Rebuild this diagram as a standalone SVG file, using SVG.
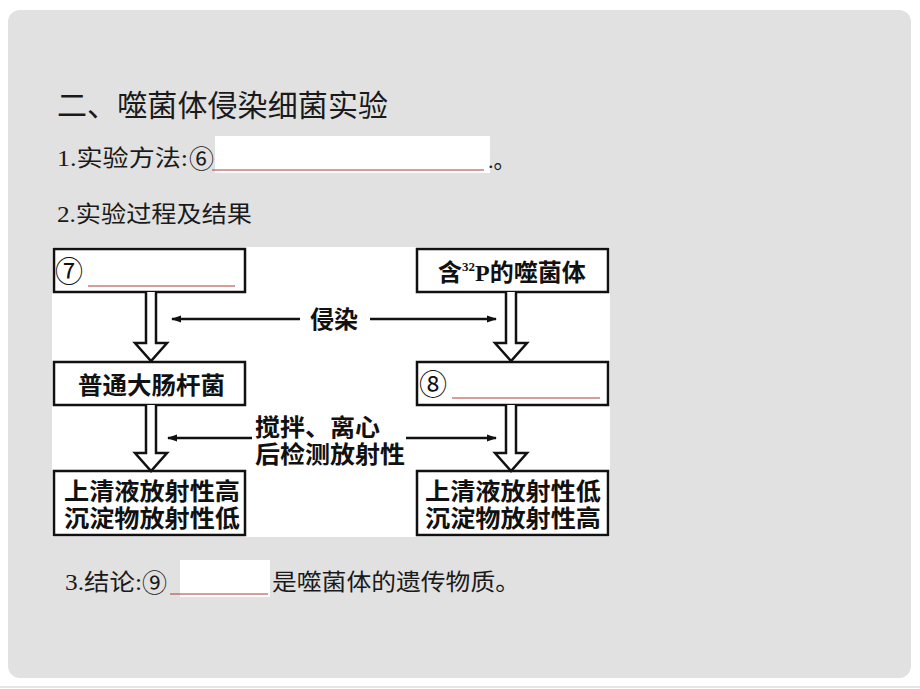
<svg xmlns="http://www.w3.org/2000/svg" width="920" height="689" viewBox="0 0 920 689">
<defs>
<style>
.t{font-family:"Liberation Serif","Noto Sans CJK SC",serif;fill:#1a1a1a}
.h{font-family:"Noto Sans CJK SC","Noto Sans",sans-serif;fill:#1a1a1a}
.b{font-family:"Liberation Serif","Noto Sans CJK SC",serif;font-weight:bold;fill:#111}
.c{font-family:"Noto Sans CJK SC","DejaVu Sans",sans-serif;font-weight:normal}
.box{fill:#fff;stroke:#111;stroke-width:2.5}
.red{stroke:#b03a3a;stroke-width:1.2}
.hollow{fill:#fff;stroke:#111;stroke-width:2.5;stroke-linejoin:miter}
.line{stroke:#111;stroke-width:2.5;fill:none}
</style>
<marker id="ah" viewBox="0 0 10 10" refX="9" refY="5" markerWidth="5" markerHeight="4" orient="auto" markerUnits="strokeWidth">
<path d="M0,1.5 L10,5 L0,8.5 Z" fill="#111"/>
</marker>
</defs>
<rect width="920" height="689" fill="#fff"/>
<rect x="8" y="10" width="903" height="668" rx="12" fill="#e1e1e1"/>
<line x1="0" y1="687" x2="920" y2="687" stroke="#e6e6e6" stroke-width="2"/>

<text class="h" x="57" y="116" font-size="30" textLength="331">二、噬菌体侵染细菌实验</text>
<text class="t" x="57" y="166" font-size="23" textLength="131" lengthAdjust="spacingAndGlyphs">1.实验方法:</text>
<text class="t c" x="189" y="168" font-size="25">⑥</text>
<rect x="215" y="136" width="275" height="37" fill="#fff"/>
<line class="red" x1="212" y1="170" x2="484" y2="170"/>
<text class="t" x="488" y="168" font-size="22">.。</text>
<text class="t" x="57" y="222" font-size="23" textLength="195" lengthAdjust="spacingAndGlyphs">2.实验过程及结果</text>

<rect x="52" y="247" width="558" height="290" fill="#fff"/>

<g id="n7">
<rect class="box" x="54" y="249" width="191" height="43"/>
<text class="b c" x="55" y="282" font-size="28" font-weight="bold">⑦</text>
<line class="red" x1="88" y1="286" x2="235" y2="286"/>
</g>
<g id="n32p">
<rect class="box" x="417" y="249" width="191" height="43"/>
<text class="b" x="438" y="281" font-size="24">含<tspan font-size="13" dy="-10">32</tspan><tspan dy="10">P的噬菌体</tspan></text>
</g>
<g id="necoli">
<rect class="box" x="54" y="362" width="191" height="43"/>
<text class="b" x="78" y="394" font-size="24" textLength="147" lengthAdjust="spacingAndGlyphs">普通大肠杆菌</text>
</g>
<g id="n8">
<rect class="box" x="417" y="362" width="191" height="43"/>
<text class="b c" x="419" y="395" font-size="28" font-weight="bold">⑧</text>
<line class="red" x1="452" y1="398" x2="600" y2="398"/>
</g>
<g id="nresL">
<rect class="box" x="54" y="471" width="191" height="64"/>
<text class="b" x="64" y="500" font-size="24" textLength="176" lengthAdjust="spacingAndGlyphs">上清液放射性高</text>
<text class="b" x="64" y="527" font-size="24" textLength="176" lengthAdjust="spacingAndGlyphs">沉淀物放射性低</text>
</g>
<g id="nresR">
<rect class="box" x="417" y="471" width="191" height="64"/>
<text class="b" x="425" y="500" font-size="24" textLength="176" lengthAdjust="spacingAndGlyphs">上清液放射性低</text>
<text class="b" x="425" y="527" font-size="24" textLength="176" lengthAdjust="spacingAndGlyphs">沉淀物放射性高</text>
</g>

<g id="connectors">
<path class="hollow" d="M146,292 V343 H135 L151,361 L167,343 H156 V292"/>
<path class="hollow" d="M506,292 V343 H495 L511,361 L527,343 H516 V292"/>
<path class="hollow" d="M146,405 V453 H135 L151,471 L167,453 H156 V405"/>
<path class="hollow" d="M506,405 V453 H495 L511,471 L527,453 H516 V405"/>
<line class="line" x1="300" y1="319" x2="172" y2="319" marker-end="url(#ah)"/>
<line class="line" x1="370" y1="319" x2="496" y2="319" marker-end="url(#ah)"/>
<line class="line" x1="252" y1="438" x2="168" y2="438" marker-end="url(#ah)"/>
<line class="line" x1="406" y1="438" x2="496" y2="438" marker-end="url(#ah)"/>
<text class="b" x="334" y="328" font-size="24" text-anchor="middle">侵染</text>
<text class="b" x="255" y="436" font-size="24" textLength="125" lengthAdjust="spacingAndGlyphs">搅拌、离心</text>
<text class="b" x="255" y="463" font-size="24" textLength="150" lengthAdjust="spacingAndGlyphs">后检测放射性</text>
</g>

<text class="t" x="65" y="590" font-size="23" textLength="77" lengthAdjust="spacingAndGlyphs">3.结论:</text>
<text class="t c" x="142" y="592" font-size="25">⑨</text>
<rect x="180" y="560" width="90" height="37" fill="#fff"/>
<line class="red" x1="170" y1="594" x2="268" y2="594"/>
<text class="t" x="272" y="590" font-size="23" textLength="248" lengthAdjust="spacingAndGlyphs">是噬菌体的遗传物质。</text>
</svg>
